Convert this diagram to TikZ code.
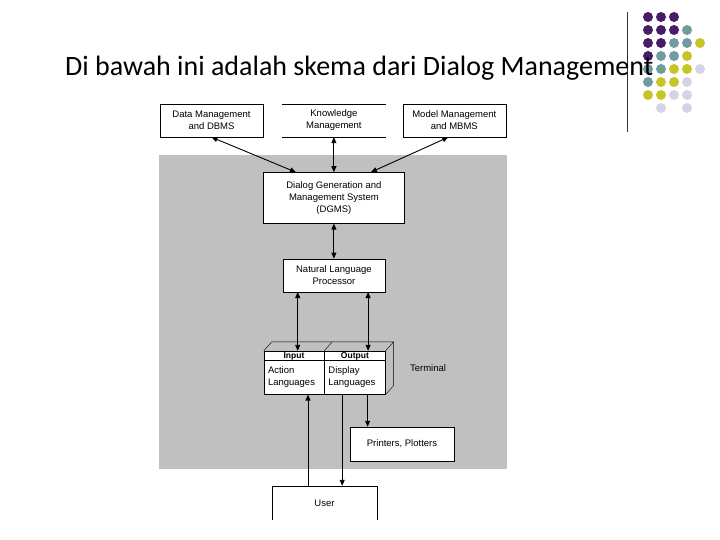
\documentclass[tikz,border=0pt]{standalone}
\usepackage{fontspec}
\setmainfont{Carlito}
\newfontfamily\boxfont{Liberation Sans}
\usetikzlibrary{
    arrows.meta,
    positioning,
    calc
}
\tikzset{
  block/.style   = {draw, fill=white, minimum width=103pt, minimum height=33pt,
                    inner sep=0pt, align=center, font=\boxfont\fontsize{9.5}{12}\selectfont},
  hcell/.style   = {draw, fill=white, minimum height=9pt, inner sep=0pt,
                    text height=6.5pt, text depth=1.5pt,
                    font=\boxfont\bfseries\fontsize{8.5}{9}\selectfont},
  lcell/.style   = {draw, fill=white, minimum height=34pt, inner sep=0pt, inner xsep=4pt,
                    align=left, font=\boxfont\fontsize{9.5}{12}\selectfont},
  arr/.style     = {-{Triangle[length=6pt,width=5pt]}, line width=0.9pt},
  darr/.style    = {{Triangle[length=6pt,width=5pt]}-{Triangle[length=6pt,width=5pt]},
                    line width=0.9pt}
}
\definecolor{panelGray}{RGB}{192,192,192}
\definecolor{dotPurple}{RGB}{72,28,104}
\definecolor{dotTeal}{RGB}{112,156,160}
\definecolor{dotOlive}{RGB}{200,196,40}
\definecolor{dotLilac}{RGB}{212,212,230}

\begin{document}
\begin{tikzpicture}[x=1pt, y=-1pt]
  \useasboundingbox (0,0) rectangle (720,540);

  % slide decoration
  \draw[line width=0.8pt, black!80] (627,12) -- (627,132);
  \foreach \c/\r/\col in {1/1/dotPurple, 2/1/dotPurple, 3/1/dotPurple,
      1/2/dotPurple, 2/2/dotPurple, 3/2/dotPurple, 4/2/dotTeal,
      1/3/dotPurple, 2/3/dotPurple, 3/3/dotTeal, 4/3/dotTeal, 5/3/dotOlive,
      1/4/dotPurple, 2/4/dotTeal, 3/4/dotTeal, 4/4/dotOlive,
      1/5/dotTeal, 2/5/dotTeal, 3/5/dotOlive, 4/5/dotOlive, 5/5/dotLilac,
      1/6/dotTeal, 2/6/dotOlive, 3/6/dotOlive, 4/6/dotLilac,
      1/7/dotOlive, 2/7/dotOlive, 3/7/dotLilac, 4/7/dotLilac,
      2/8/dotLilac, 4/8/dotLilac}
    \fill[\col] ({635+13*\c},{4+13*\r}) circle (5pt);

  \node[anchor=base west, font=\fontsize{28}{34}\selectfont, inner sep=0pt] (title) at (65,76)
    {Di bawah ini adalah skema dari Dialog Management};

  % grey panel
  \fill[panelGray] (159,155) rectangle (507,469);

  \node[block] (data) at (211.5,120.5) {Data Management\\and DBMS};
  \node[block, draw=none, fill=none, right=19pt of data] (know) {Knowledge\\Management};
  \node[block, right=17pt of know] (model) {Model Management\\and MBMS};
  \draw (know.north west) -- (know.north east);
  \draw (know.south west) -- (know.south east);

  \node[block, minimum width=141pt, minimum height=51pt, below=35pt of know] (dgms)
    {Dialog Generation and\\Management System\\(DGMS)};
  \node[block, minimum width=102pt, below=35pt of dgms] (nlp) {Natural Language\\Processor};

  % terminal
  \node[hcell, minimum width=60pt] (inhead) at (294,355.5) {Input};
  \node[hcell, minimum width=61pt, right=0pt of inhead] (outhead) {Output};
  \node[lcell, text width=52pt, below=0pt of inhead] (act) {Action\\Languages};
  \node[lcell, text width=53pt, below=0pt of outhead] (disp) {Display\\Languages};
  \draw (inhead.north west) -- ++(8,-9) -- ($(outhead.north east)+(8,-9)$) -- (outhead.north east);
  \draw (inhead.north east) -- ++(8,-9);
  \draw ($(outhead.north east)+(8,-9)$) -- ($(disp.south east)+(8,-9)$) -- (disp.south east);
  \node[font=\boxfont\fontsize{9.5}{12}\selectfont] (termlbl) at (428,368) {Terminal};

  \node[block, minimum width=104pt, minimum height=34pt] (prn) at (402,444) {Printers, Plotters};
  \node[block, draw=none, minimum width=105pt, minimum height=34pt] (user) at (324.5,503) {User};
  \draw (user.south west) -- (user.north west) -- (user.north east) -- (user.south east);

  \draw[darr] (data.south) -- ([xshift=-38pt]dgms.north);
  \draw[darr] (know.south) -- (dgms.north);
  \draw[darr] ([xshift=-6pt]model.south) -- ([xshift=37pt]dgms.north);
  \draw[darr] (dgms.south) -- (nlp.north);
  \draw[darr] ([xshift=15pt]nlp.south west) -- ([xshift=15pt]nlp.south west |- inhead.north);
  \draw[darr] ([xshift=-17pt]nlp.south east) -- ([xshift=-17pt]nlp.south east |- outhead.north);
  \draw[arr] ([xshift=14pt]act.south |- user.north) -- ([xshift=14pt]act.south);
  \draw[arr] ([xshift=18pt]disp.south west) -- ([xshift=18pt]disp.south west |- user.north);
  \draw[arr] ([xshift=-18pt]disp.south east) -- ([xshift=-18pt]disp.south east |- prn.north);
\end{tikzpicture}
\end{document}
